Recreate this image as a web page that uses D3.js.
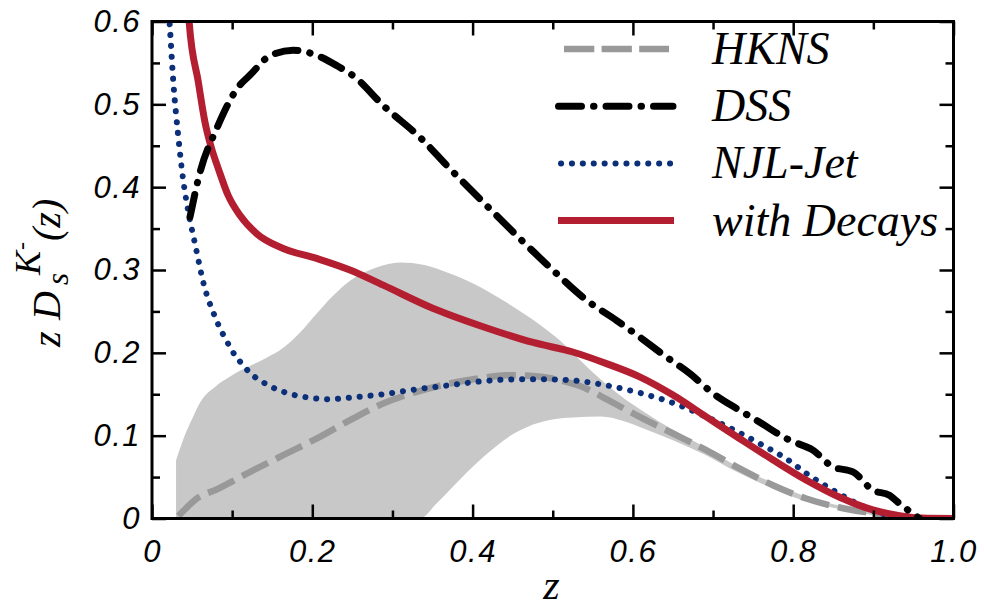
<!DOCTYPE html>
<html>
<head>
<meta charset="utf-8">
<script src="https://cdn.jsdelivr.net/npm/d3@7"></script>
<style>
  body { margin: 0; background: #fff; }
  svg { display: block; }
  .tick text { font-family: "Liberation Sans", Arial, sans-serif; font-style: italic; font-size: 31px; letter-spacing: 1.5px; fill: #000; }
  .serif { font-family: "Liberation Serif", "Times New Roman", serif; font-style: italic; fill: #000; }
</style>
</head>
<body>
<svg id="chart" width="984" height="610"></svg>
<script>
// Fragmentation function z·D_s^{K-}(z): curves as [z, value] pairs
const hknsCurve = [[0.033,0.003],[0.039,0.009],[0.0557,0.024],[0.0806,0.035],[0.122,0.056],[0.1637,0.0764],
  [0.2053,0.0965],[0.247,0.1187],[0.2884,0.1388],[0.33,0.1529],[0.3716,0.163],[0.413,0.1698],[0.442,0.173],
  [0.4755,0.172],[0.517,0.165],[0.534,0.160],[0.55,0.153],[0.567,0.144],[0.6085,0.1227],[0.65,0.1026],
  [0.6916,0.0825],[0.733,0.0604],[0.7747,0.0402],[0.816,0.0241],[0.858,0.0133],[0.9,0.006],[0.93,0.001]];

const hknsBandUpper = [[0.03,0.07],[0.04,0.098],[0.05,0.12],[0.06,0.14],[0.08,0.16],[0.10,0.173],[0.122,0.184],
  [0.143,0.194],[0.165,0.207],[0.185,0.225],[0.205,0.247],[0.225,0.268],[0.247,0.287],[0.28,0.303],[0.31,0.309],
  [0.34,0.306],[0.36,0.300],[0.40,0.284],[0.442,0.261],[0.484,0.234],[0.51,0.214],[0.53,0.195],[0.555,0.172],
  [0.585,0.148],[0.615,0.128],[0.65,0.107],[0.69,0.086],[0.73,0.063],[0.775,0.043],[0.815,0.027],[0.86,0.015],
  [0.9,0.007],[0.93,0.001]];

const hknsBandLower = [[0.03,0],[0.334,0],[0.355,0.018],[0.375,0.038],[0.413,0.074],[0.455,0.1045],[0.496,0.119],
  [0.525,0.122],[0.56,0.123],[0.59,0.117],[0.6085,0.1106],[0.65,0.0945],[0.69,0.077],[0.73,0.056],[0.775,0.036],
  [0.815,0.021],[0.86,0.011],[0.9,0.004],[0.93,0]];

const dssCurve = [[0.0474,0.364],[0.0599,0.418],[0.0806,0.4705],[0.1077,0.521],[0.122,0.535],[0.147,0.5585],
  [0.176,0.5654],[0.2032,0.560],[0.230,0.547],[0.253,0.533],[0.2884,0.4987],[0.338,0.4567],[0.3674,0.4266],
  [0.4173,0.378],[0.4589,0.338],[0.5,0.300],[0.542,0.2637],[0.5794,0.2393],[0.6085,0.219],[0.6418,0.195],
  [0.671,0.175],[0.70,0.151],[0.733,0.1307],[0.754,0.1187],[0.7955,0.0945],[0.8246,0.0825],[0.8495,0.0623],
  [0.8745,0.0563],[0.8994,0.0342],[0.92,0.028],[0.9327,0.018],[0.949,0.006],[0.9576,0]];

const njlCurve = [[0.0212,0.61],[0.0225,0.59],[0.0266,0.527],[0.0328,0.461],[0.039,0.408],[0.045,0.372],
  [0.0536,0.332],[0.0648,0.282],[0.0786,0.2435],[0.0964,0.2086],[0.1035,0.197],[0.112,0.187],[0.121,0.177],
  [0.143,0.162],[0.168,0.1517],[0.195,0.146],[0.222,0.144],[0.247,0.146],[0.288,0.150],[0.33,0.156],
  [0.372,0.161],[0.413,0.1658],[0.455,0.168],[0.496,0.168],[0.532,0.166],[0.571,0.160],[0.611,0.151],
  [0.65,0.1396],[0.687,0.1248],[0.725,0.1074],[0.758,0.0905],[0.791,0.0724],[0.82,0.052],[0.85,0.034],
  [0.88,0.018],[0.91,0.006],[0.93,0.001],[0.95,0]];

const decaysCurve = [[0.0455,0.62],[0.0465,0.598],[0.0578,0.527],[0.066,0.479],[0.0744,0.4465],[0.0827,0.4225],
  [0.095,0.39],[0.1097,0.366],[0.1305,0.344],[0.1637,0.326],[0.2053,0.314],[0.247,0.300],[0.2885,0.2817],
  [0.351,0.2535],[0.413,0.2315],[0.4755,0.2125],[0.525,0.201],[0.567,0.187],[0.6085,0.171],[0.65,0.149],
  [0.6916,0.1227],[0.733,0.0966],[0.775,0.0706],[0.816,0.0465],[0.858,0.0256],[0.8994,0.0103],[0.9327,0.0035],
  [0.96,0.0005],[1.0,0]];

const legendLabels = ["HKNS", "DSS", "NJL-Jet", "with Decays"];

const xMajor = [0, 0.2, 0.4, 0.6, 0.8, 1.0];
const xMinor = [0.1, 0.3, 0.5, 0.7, 0.9];
const xTickLabels = ["0", "0.2", "0.4", "0.6", "0.8", "1.0"];
const yMajor = [0, 0.1, 0.2, 0.3, 0.4, 0.5, 0.6];
const yMinor = [0.05, 0.15, 0.25, 0.35, 0.45, 0.55];
const yTickLabels = ["0", "0.1", "0.2", "0.3", "0.4", "0.5", "0.6"];

const svg = d3.select("#chart");
const plotLeft = 152, plotRight = 953.5, plotTop = 21.5, plotBottom = 518.5;
const x = d3.scaleLinear().domain([0, 1]).range([plotLeft, plotRight]);
const y = d3.scaleLinear().domain([0, 0.6]).range([plotBottom, plotTop]);

svg.append("defs").append("clipPath").attr("id", "plot-clip")
  .append("rect").attr("x", plotLeft).attr("y", plotTop)
  .attr("width", plotRight - plotLeft).attr("height", plotBottom - plotTop);

const plot = svg.append("g").attr("clip-path", "url(#plot-clip)");

const line = d3.line().x(d => x(d[0])).y(d => y(d[1])).curve(d3.curveMonotoneX);

// uncertainty band of HKNS: upper edge left to right, lower edge right to left
const bandPath = line(hknsBandUpper) + line(hknsBandLower.slice().reverse()).replace(/^M/, "L") + "Z";
plot.append("path").attr("d", bandPath).attr("fill", "#c8c8c8");

const styles = {
  HKNS: { stroke: "#999999", width: 6.5, dash: "29,9", cap: "butt" },
  DSS: { stroke: "#000000", width: 7, dash: "23,12,0.5,12", cap: "round" },
  NJL: { stroke: "#0b2f78", width: 6, dash: "0.1,10.8", cap: "round" },
  DEC: { stroke: "#b31f30", width: 7, dash: null, cap: "butt" }
};

function drawCurve(data, s) {
  plot.append("path").attr("d", line(data)).attr("fill", "none")
    .attr("stroke", s.stroke).attr("stroke-width", s.width)
    .attr("stroke-dasharray", s.dash).attr("stroke-linecap", s.cap).attr("stroke-linejoin", "round");
}
drawCurve(hknsCurve, styles.HKNS);
drawCurve(njlCurve, styles.NJL);
drawCurve(decaysCurve, styles.DEC);
drawCurve(dssCurve, styles.DSS);

// axes: ticks point inward on all four sides
function styleAxis(g) {
  g.select(".domain").remove();
  g.selectAll(".tick line").attr("stroke", "#000").attr("stroke-width", 2.5);
}
svg.append("g").attr("transform", `translate(0,${plotBottom})`)
  .call(d3.axisBottom(x).tickValues(xMajor).tickSizeInner(-14).tickSizeOuter(0).tickPadding(21.5)
    .tickFormat((d, i) => xTickLabels[i])).call(styleAxis);
svg.append("g").attr("transform", `translate(0,${plotBottom})`)
  .call(d3.axisBottom(x).tickValues(xMinor).tickSizeInner(-8).tickSizeOuter(0).tickFormat("")).call(styleAxis);
svg.append("g").attr("transform", `translate(0,${plotTop})`)
  .call(d3.axisTop(x).tickValues(xMajor).tickSizeInner(-14).tickSizeOuter(0).tickFormat("")).call(styleAxis);
svg.append("g").attr("transform", `translate(0,${plotTop})`)
  .call(d3.axisTop(x).tickValues(xMinor).tickSizeInner(-8).tickSizeOuter(0).tickFormat("")).call(styleAxis);
svg.append("g").attr("transform", `translate(${plotLeft},0)`)
  .call(d3.axisLeft(y).tickValues(yMajor).tickSizeInner(-14).tickSizeOuter(0).tickPadding(11)
    .tickFormat((d, i) => yTickLabels[i])).call(styleAxis);
svg.append("g").attr("transform", `translate(${plotLeft},0)`)
  .call(d3.axisLeft(y).tickValues(yMinor).tickSizeInner(-8).tickSizeOuter(0).tickFormat("")).call(styleAxis);
svg.append("g").attr("transform", `translate(${plotRight},0)`)
  .call(d3.axisRight(y).tickValues(yMajor).tickSizeInner(-14).tickSizeOuter(0).tickFormat("")).call(styleAxis);
svg.append("g").attr("transform", `translate(${plotRight},0)`)
  .call(d3.axisRight(y).tickValues(yMinor).tickSizeInner(-8).tickSizeOuter(0).tickFormat("")).call(styleAxis);

svg.append("rect").attr("x", plotLeft).attr("y", plotTop)
  .attr("width", plotRight - plotLeft).attr("height", plotBottom - plotTop)
  .attr("fill", "none").attr("stroke", "#000").attr("stroke-width", 3);

// legend
const legendStyles = [styles.HKNS, styles.DSS, styles.NJL, styles.DEC];
const legend = svg.append("g");
legendLabels.forEach((lab, i) => {
  const ly = 49 + i * 57.2;
  const s = legendStyles[i];
  const x0 = [564, 558.5, 561, 558][i], x1 = [669, 673, 671, 674][i];
  legend.append("line").attr("x1", x0).attr("x2", x1).attr("y1", ly).attr("y2", ly)
    .attr("stroke", s.stroke).attr("stroke-width", s.width)
    .attr("stroke-dasharray", i === 0 ? "30.3,7.3" : s.dash).attr("stroke-linecap", s.cap);
  legend.append("text").attr("class", "serif").attr("x", 712).attr("y", ly + 15)
    .attr("font-size", 46).text(lab);
});

// axis titles
svg.append("text").attr("class", "serif").attr("x", 551.5).attr("y", 599)
  .attr("text-anchor", "middle").attr("font-size", 42).text("z");

const yt = svg.append("g").attr("transform", "translate(60,347) rotate(-90)");
yt.append("text").attr("class", "serif").attr("x", 0).attr("y", 0).attr("font-size", 40).text("z");
yt.append("text").attr("class", "serif").attr("x", 27).attr("y", 0).attr("font-size", 40).text("D");
yt.append("text").attr("class", "serif").attr("x", 62).attr("y", 8).attr("font-size", 31).text("s");
yt.append("text").attr("class", "serif").attr("x", 72).attr("y", -20).attr("font-size", 36).text("K");
yt.append("text").attr("class", "serif").attr("x", 97).attr("y", -31).attr("font-size", 24).text("-");
yt.append("text").attr("class", "serif").attr("x", 106).attr("y", 0).attr("font-size", 40).text("(z)");
</script>
</body>
</html>
